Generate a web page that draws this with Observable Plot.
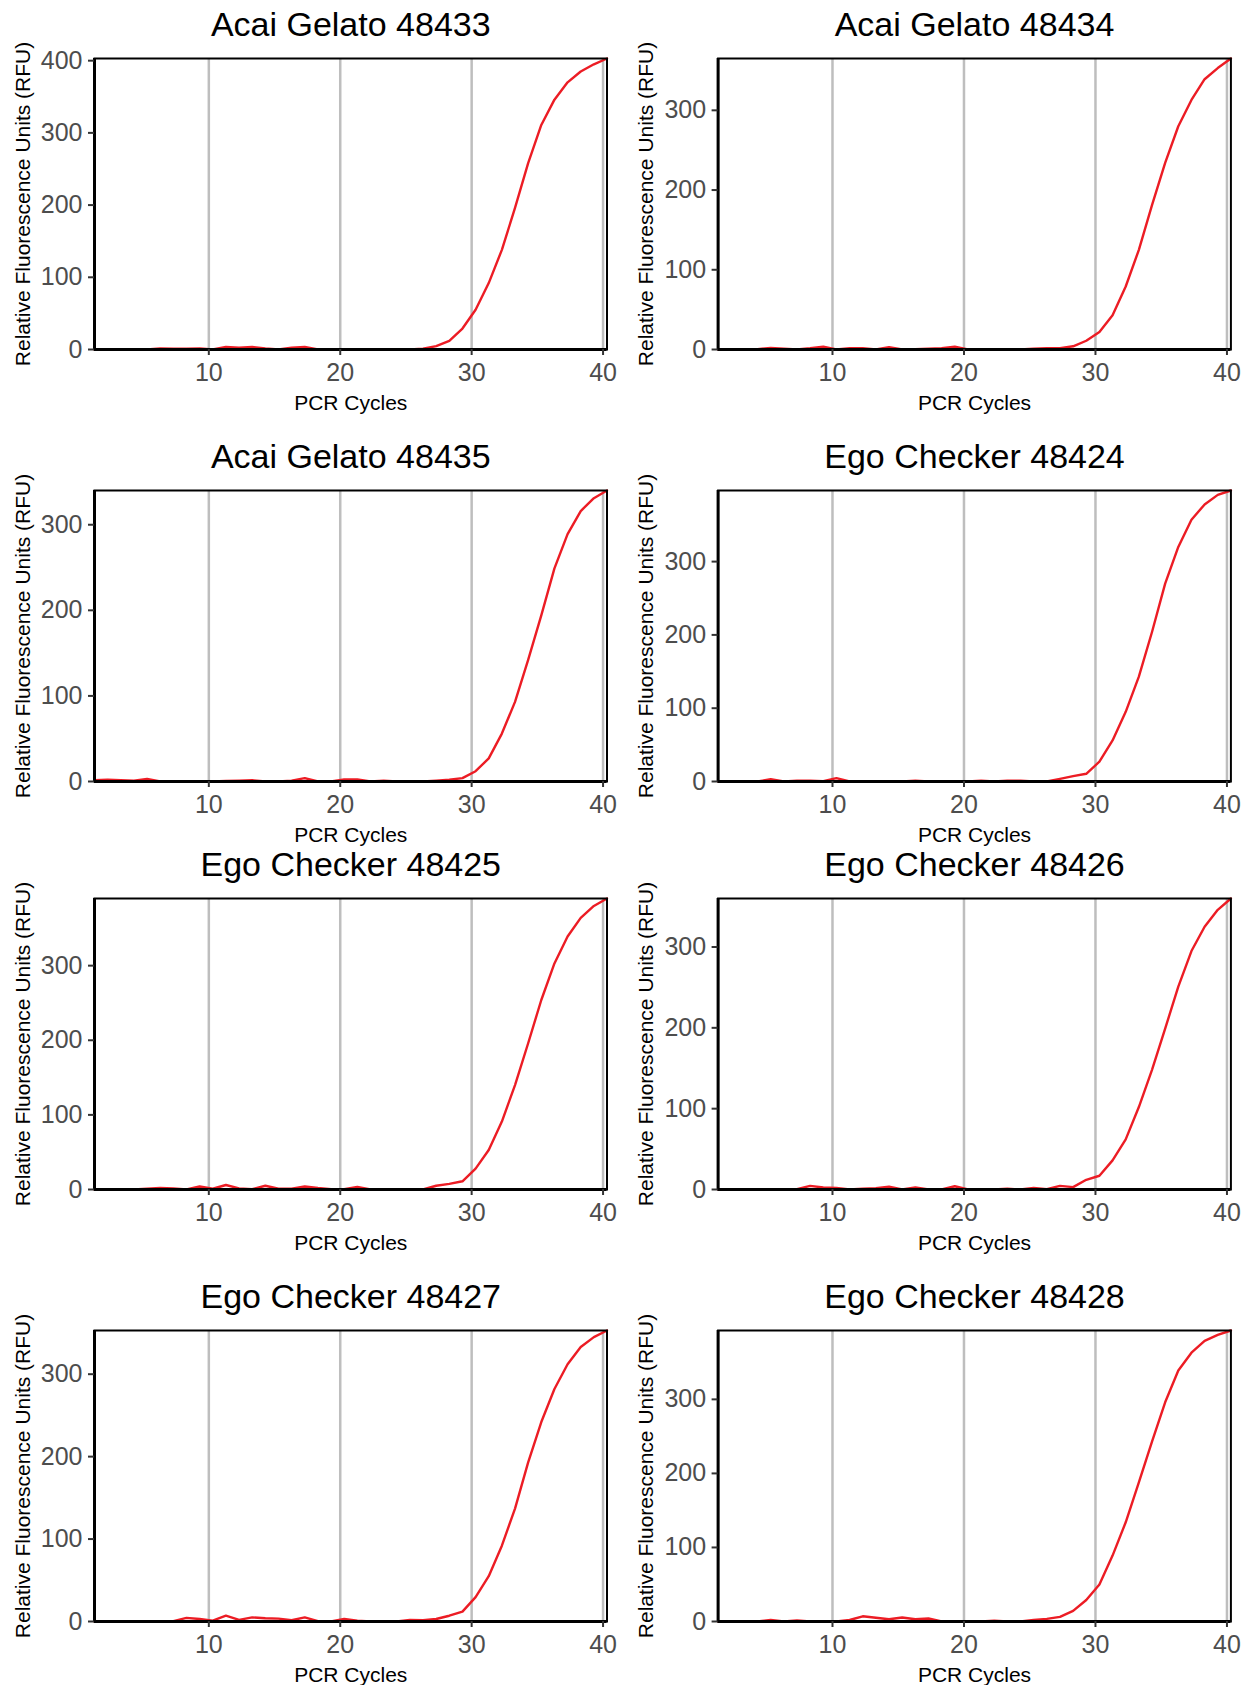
<!DOCTYPE html>
<html>
<head>
<meta charset="utf-8">
<script src="https://cdn.jsdelivr.net/npm/d3@7"></script>
<script src="https://cdn.jsdelivr.net/npm/@observablehq/plot@0.6"></script>
<style>
  html, body { margin: 0; padding: 0; background: #ffffff; overflow: hidden; }
  #wrap { position: relative; width: 1252px; height: 1685px; overflow: hidden; background: #ffffff; }
  .panel { position: absolute; }
</style>
</head>
<body>
<div id="wrap"></div>
<script>
// ---- data ----
const cycles = [1.3, 2.3, 3.3, 4.3, 5.3, 6.3, 7.3, 8.3, 9.3, 10.3,
                11.3, 12.3, 13.3, 14.3, 15.3, 16.3, 17.3, 18.3, 19.3, 20.3,
                21.3, 22.3, 23.3, 24.3, 25.3, 26.3, 27.3, 28.3, 29.3, 30.3,
                31.3, 32.3, 33.3, 34.3, 35.3, 36.3, 37.3, 38.3, 39.3, 40.3];

const titles = ["Acai Gelato 48433", "Acai Gelato 48434", "Acai Gelato 48435", "Ego Checker 48424",
                "Ego Checker 48425", "Ego Checker 48426", "Ego Checker 48427", "Ego Checker 48428"];

const rfu48433 = [0,0.5,0,0,0,1.5,1,1,1.5,0, 3.5,2.5,3.5,1.5,0,2.5,3.5,0,0,0, 0,0,0,0,0,1,4.6,12,29,55, 92,138,196,258,311,346,370,385,395,403];
const rfu48434 = [0,0,0,0.5,2,1,0,1.5,3.5,0, 1.5,1.5,0,3,0,0.5,1,1.5,3.5,0, 0,0,0,0,1,1.5,1.7,4,11,22, 43,79,125,181,234,280,313,339,353,365];
const rfu48435 = [1.5,2,1.5,1,3,0,0,0,0,0, 0.5,1,1.5,0,0,1,4,0,0,2.4, 2.4,0,1,0,0,0,1,2,4,12, 27,56,93,142,194,249,289,316,331,340];
const rfu48424 = [0,0,0,0,3,0,1,1,0.5,4.5, 0,0,0,0,0,1,0,0,0,0, 1,0,1,1,0,0,3.6,7.3,10.5,27, 56,95,143,204,270,320,357,378,391,397];
const rfu48425 = [0,0,0,0,1,2,1.5,0,4,1, 6,1.5,0.5,5,1,1,4,2,0.5,0.5, 3.5,0,0,0.5,0,0,5,7.5,11,28, 53,91,140,196,254,303,339,364,380,390];
const rfu48426 = [0,0,0,0,0,0,0.5,4.5,2.5,2, 0,1,1.5,3.5,0,2.5,0,0,4,0, 0,0,1,0,2,0.5,4.5,3,12,17, 36,62,102,148,199,251,295,325,346,360];
const rfu48427 = [0,0,0,0,0,0,0.5,4.4,3,1, 7,2,5,4,3.5,1.5,5,0.5,0,3, 1,0,0,0,2,1.5,3,7,12,29.5, 55,92,137,193,242,282,312,333,345,353];
const rfu48428 = [0,0,0,0,2,0,1.5,0,0,0, 2,7,5,3,5.4,3,4,0,0,0, 0,1,0,0,2,3.6,6.3,14.4,29,50, 89,134,188,243,296,339,363,379,387,393];

const series = [rfu48433, rfu48434, rfu48435, rfu48424, rfu48425, rfu48426, rfu48427, rfu48428];

const xTicks = [10, 20, 30, 40];
const yTicks = [0, 100, 200, 300, 400];
const xLabel = "PCR Cycles";
const yLabel = "Relative Fluorescence Units (RFU)";

// ---- layout ----
const colLeft = [0, 626];
const mLeft = [94, 91.6];
const mRight = [19.5, 21.6];
const rowTop = [0, 432, 840, 1272];
const W = 626, H = 415, MT = 58, MB = 66;
const font = "'Liberation Sans', Arial, Helvetica, sans-serif";

const wrap = document.getElementById("wrap");

series.forEach((vals, i) => {
  const col = i % 2, row = Math.floor(i / 2);
  const data = cycles.map((c, k) => ({cycle: c, rfu: vals[k]}));
  const yMax = d3.max(vals);
  const xDom = [cycles[0], cycles[cycles.length - 1]];
  const plot = Plot.plot({
    width: W,
    height: H,
    marginLeft: mLeft[col],
    marginRight: mRight[col],
    marginTop: MT,
    marginBottom: MB,
    style: {fontFamily: font, background: "transparent", overflow: "visible"},
    x: {domain: xDom, label: null},
    y: {domain: [0, yMax], label: null},
    marks: [
      Plot.ruleX(xTicks, {stroke: "#bebebe", strokeWidth: 2.5}),
      Plot.line(data, {x: "cycle", y: "rfu", stroke: "#ec1c24", strokeWidth: 2.4}),
      Plot.frame({stroke: "#000000", strokeWidth: 2}),
      Plot.ruleX([xDom[0]], {stroke: "#000000", strokeWidth: 3}),
      Plot.ruleY([0], {stroke: "#000000", strokeWidth: 3}),
      Plot.axisY({ticks: yTicks.filter(t => t <= yMax), tickSize: 6, tickPadding: 6, fontSize: 25,
                  stroke: "#333333", fill: "#4d4d4d", strokeWidth: 2, label: null}),
      Plot.axisX({ticks: xTicks, tickSize: 6, tickPadding: 8, fontSize: 25,
                  stroke: "#333333", fill: "#4d4d4d", strokeWidth: 2, label: null}),
      Plot.text([titles[i]], {frameAnchor: "top", dy: -23, lineAnchor: "bottom", textAnchor: "middle",
                  fontSize: 34, fill: "#000000", text: d => d}),
      Plot.text([xLabel], {frameAnchor: "bottom", dy: 60, lineAnchor: "bottom", textAnchor: "middle",
                  fontSize: 21, fill: "#000000", text: d => d}),
      Plot.text([yLabel], {frameAnchor: "left", dx: -65, rotate: -90, lineAnchor: "bottom", textAnchor: "middle",
                  fontSize: 21, fill: "#000000", text: d => d})
    ]
  });
  plot.classList.add("panel");
  plot.style.left = colLeft[col] + "px";
  plot.style.top = rowTop[row] + "px";
  wrap.appendChild(plot);
});
</script>
</body>
</html>
